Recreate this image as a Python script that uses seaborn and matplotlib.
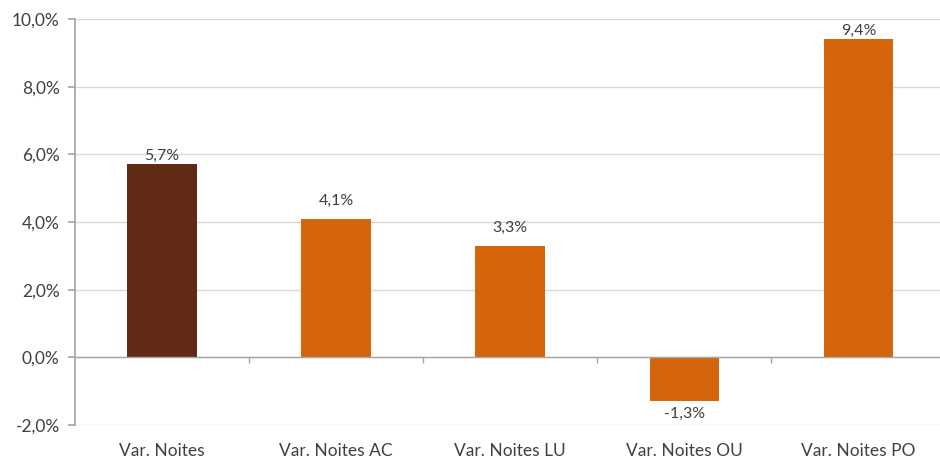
import matplotlib
matplotlib.use("Agg")
import matplotlib.pyplot as plt
import seaborn as sns
import pandas as pd
from matplotlib.ticker import FuncFormatter

categories = ["Var. Noites", "Var. Noites AC", "Var. Noites LU", "Var. Noites OU", "Var. Noites PO"]
values = [5.7, 4.1, 3.3, -1.3, 9.4]
colors = ["#612A14", "#D4650B", "#D4650B", "#D4650B", "#D4650B"]
label_offsets = [1, 8, 8, -4, 1]  # points

sns.set_theme(style="white")
plt.rcParams["font.family"] = ["Lato", "DejaVu Sans"]

df = pd.DataFrame({"cat": categories, "val": values})

fig = plt.figure(figsize=(9.4, 4.59), dpi=100)
ax = fig.add_axes([0.0798, 0.074, 0.926, 0.8846])

sns.barplot(data=df, x="cat", y="val", hue="cat", palette=colors, width=0.4,
            legend=False, ax=ax, saturation=1, edgecolor="none")

ax.set_ylim(-2, 10)
ax.set_xlim(-0.5, len(categories) - 0.5)
ax.set_yticks([-2, 0, 2, 4, 6, 8, 10])
ax.yaxis.set_major_formatter(FuncFormatter(lambda v, p: f"{v:.1f}%".replace(".", ",")))
ax.grid(axis="y", color="#D9D9D9", linewidth=1)
ax.set_axisbelow(True)
for s in ["top", "right", "bottom"]:
    ax.spines[s].set_visible(False)
ax.spines["left"].set_color("#A6A6A6")
ax.axhline(0, color="#A6A6A6", linewidth=1, zorder=3)
ax.vlines([i + 0.5 for i in range(len(categories) - 1)], 0, -0.16, color="#A6A6A6", linewidth=1, zorder=3)

ax.tick_params(axis="y", left=True, length=5, color="#A6A6A6", labelsize=12.5, labelcolor="#404040", pad=6)
ax.tick_params(axis="x", bottom=False, labelsize=12.5, labelcolor="#404040", pad=7)
ax.set_xlabel("")
ax.set_ylabel("")

for i, (v, off) in enumerate(zip(values, label_offsets)):
    txt = f"{v:.1f}%".replace(".", ",")
    if v >= 0:
        ax.annotate(txt, (i, v), xytext=(0, off), textcoords="offset points",
                    ha="center", va="bottom", fontsize=11.5, color="#404040")
    else:
        ax.annotate(txt, (i, v), xytext=(0, off), textcoords="offset points",
                    ha="center", va="top", fontsize=11.5, color="#404040")

fig.savefig("out.png", dpi=100)
